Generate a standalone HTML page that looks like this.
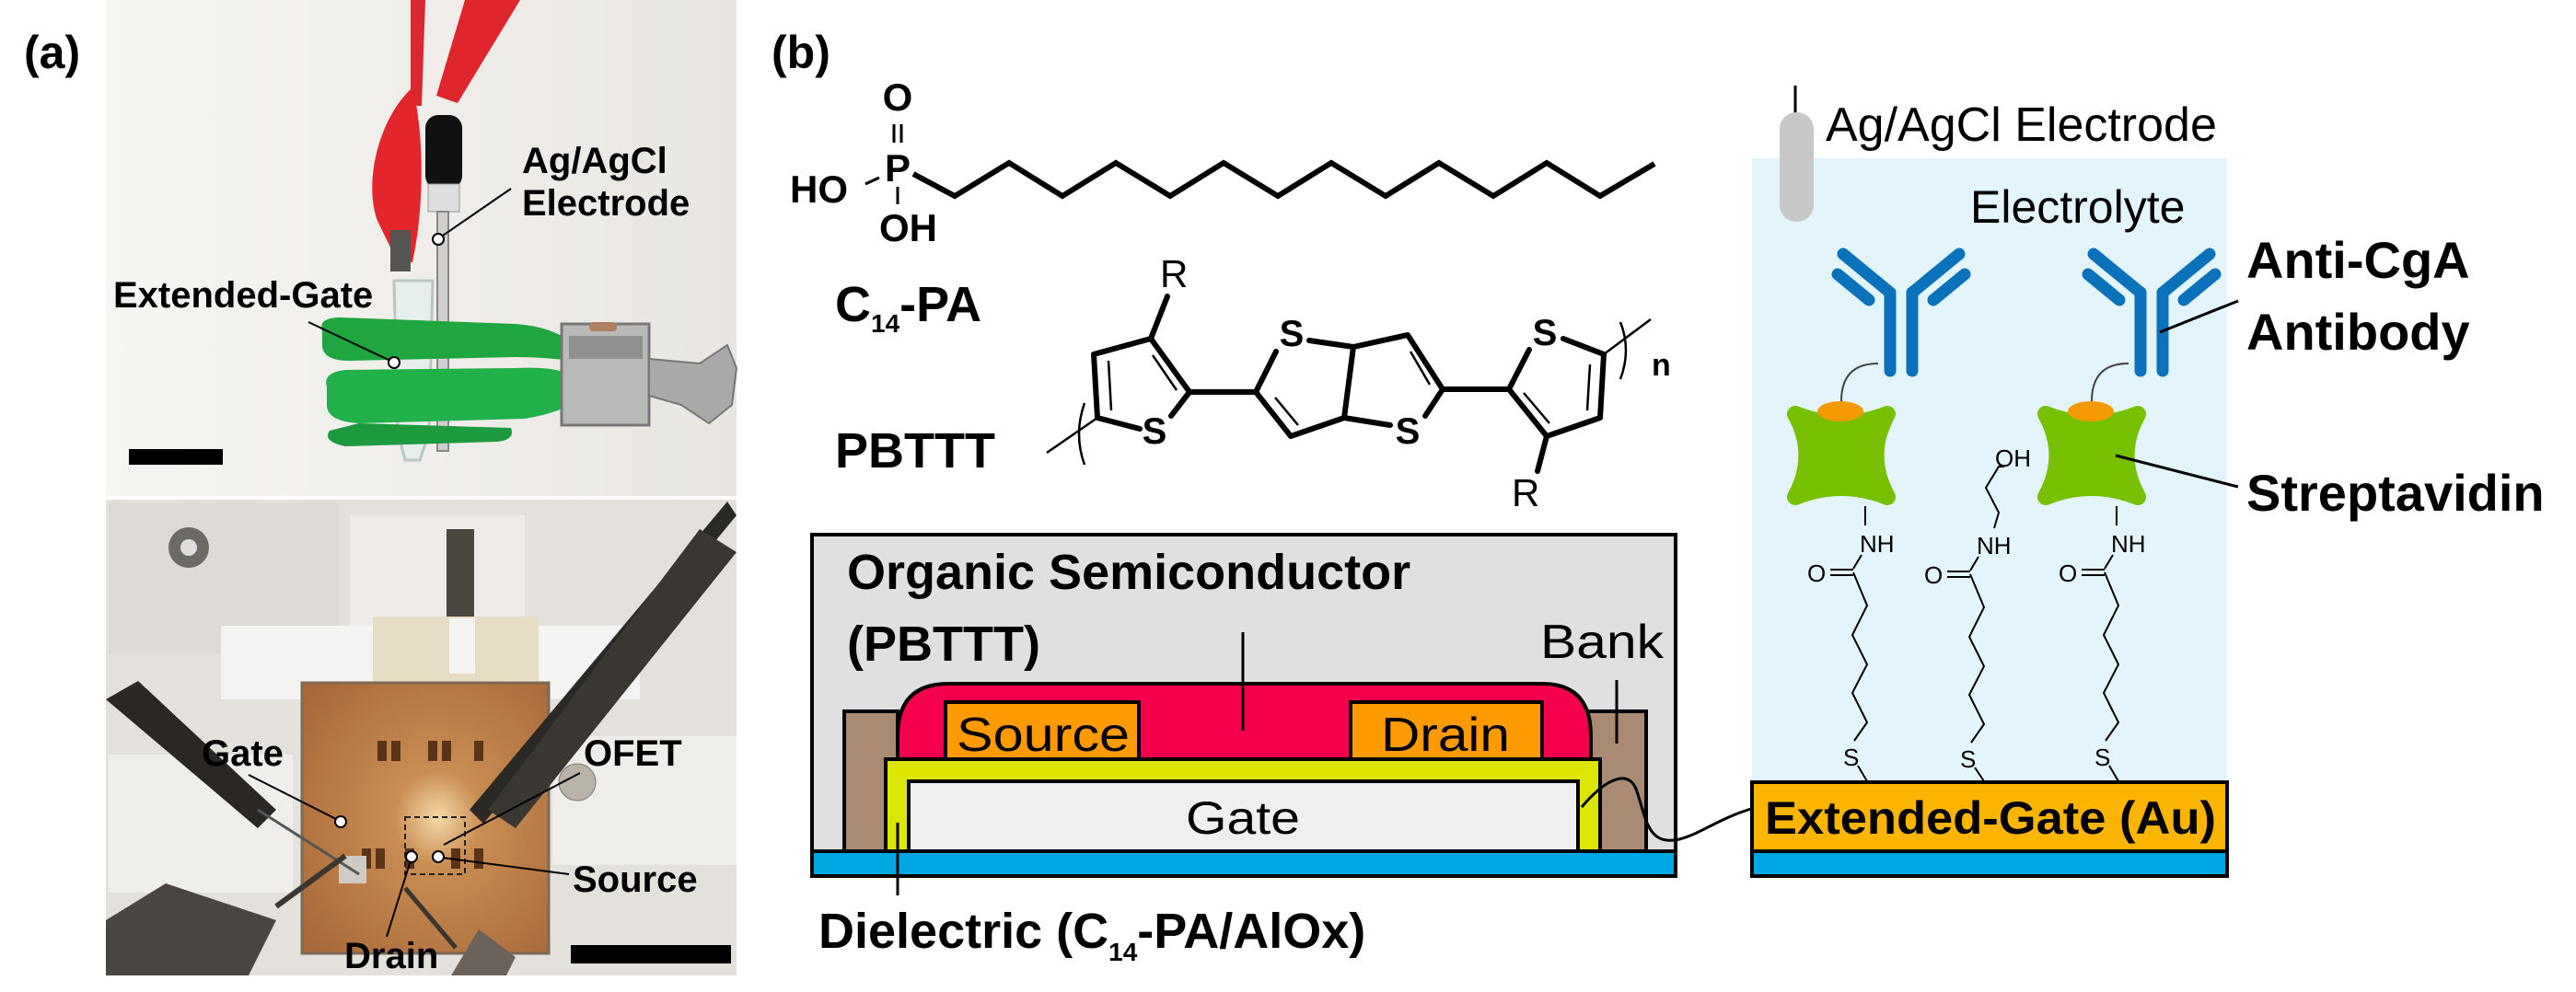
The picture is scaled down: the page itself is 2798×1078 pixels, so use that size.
<!DOCTYPE html>
<html><head><meta charset="utf-8"><style>
html,body{margin:0;padding:0;background:#fff;}
svg{display:block;}
text{font-family:"Liberation Sans",Arial,sans-serif;}
.b{font-weight:bold;}
</style></head><body>
<svg width="2798" height="1078" viewBox="0 0 2798 1078" xmlns="http://www.w3.org/2000/svg">
<defs>
<linearGradient id="bgTop" x1="0" y1="0" x2="1" y2="0"><stop offset="0" stop-color="#f7f5f2"/><stop offset="1" stop-color="#e9e6e2"/></linearGradient>
<radialGradient id="cu" cx="0.55" cy="0.5" r="0.7"><stop offset="0" stop-color="#f3d9a8"/><stop offset="0.25" stop-color="#c98d52"/><stop offset="1" stop-color="#a8683a"/></radialGradient>
</defs>

<!-- ===== Panel (a) ===== -->
<text x="26" y="74" class="b" font-size="50">(a)</text>
<rect x="115" y="0" width="685" height="539" fill="url(#bgTop)"/>
<path d="M446 0 L462 0 L458 115 L446 115 Z" fill="#d9282f"/>
<path d="M505 0 L565 0 L497 112 L474 104 Z" fill="#e0252c"/>
<path d="M448 95 C410 130 395 200 410 240 L432 285 L448 285 C462 220 460 140 448 95 Z" fill="#e3262c"/>
<rect x="424" y="250" width="22" height="45" fill="#555"/>
<rect x="462" y="125" width="40" height="80" rx="14" fill="#111"/>
<rect x="465" y="200" width="34" height="30" fill="#ddd" stroke="#999"/>
<rect x="475" y="230" width="12" height="260" fill="#cfcfcf" stroke="#888" stroke-width="2"/>
<path d="M428 305 L470 305 L466 470 L456 500 L440 500 L432 470 Z" fill="#e6efee" stroke="#b8c6c4" stroke-width="3"/>
<path d="M350 360 Q345 345 370 345 L560 352 Q600 355 620 372 L620 392 Q590 388 560 388 L380 392 Q350 392 350 375 Z" fill="#1fa640"/>
<path d="M355 420 Q350 405 375 402 L560 400 Q605 398 620 408 L620 440 Q600 450 570 455 L390 460 Q355 458 355 440 Z" fill="#22b04a"/>
<path d="M358 468 Q350 480 375 485 L540 480 Q560 478 555 465 L390 460 Z" fill="#1d9a3d"/>
<rect x="610" y="352" width="95" height="110" fill="#b9b9b9" stroke="#777" stroke-width="3"/>
<rect x="618" y="365" width="80" height="25" fill="#8f8f8f"/>
<rect x="640" y="350" width="30" height="10" rx="4" fill="#b08060"/>
<path d="M705 390 L760 395 L790 375 L800 400 L795 440 L770 460 L740 440 L705 430 Z" fill="#a9a9a9" stroke="#777" stroke-width="2"/>
<rect x="140" y="488" width="102" height="17" fill="#000"/>
<text x="567" y="188" class="b" font-size="40">Ag/AgCl</text>
<text x="567" y="234" class="b" font-size="40">Electrode</text>
<line x1="555" y1="205" x2="478" y2="258" stroke="#000" stroke-width="2"/>
<circle cx="476" cy="260" r="6" fill="#fff" stroke="#000" stroke-width="2"/>
<text x="123" y="334" class="b" font-size="40">Extended-Gate</text>
<line x1="335" y1="350" x2="424" y2="392" stroke="#000" stroke-width="2"/>
<circle cx="428" cy="394" r="6" fill="#fff" stroke="#000" stroke-width="2"/>

<!-- bottom photo -->
<rect x="115" y="543" width="685" height="517" fill="#e4e1dd"/>
<rect x="118" y="546" width="250" height="165" fill="#dedad6"/>
<rect x="240" y="680" width="165" height="80" fill="#f4f3f1"/>
<rect x="530" y="680" width="165" height="80" fill="#f4f3f1"/>
<rect x="380" y="560" width="190" height="120" fill="#eeebe8"/>
<rect x="600" y="800" width="200" height="140" fill="#efedea"/>
<rect x="118" y="820" width="200" height="150" fill="#f0eeeb"/>
<circle cx="205" cy="595" r="22" fill="#6d6a66"/><circle cx="205" cy="595" r="9" fill="#ddd"/>
<rect x="485" y="575" width="30" height="100" fill="#4a4640"/>
<rect x="405" y="670" width="180" height="70" fill="#e7dcc4"/>
<rect x="488" y="672" width="28" height="60" fill="#f4f4f2"/>
<rect x="328" y="742" width="268" height="294" fill="url(#cu)" stroke="#7b6a55" stroke-width="3"/>
<g fill="#5a3418">
<rect x="410" y="805" width="10" height="22"/><rect x="425" y="805" width="10" height="22"/>
<rect x="465" y="805" width="10" height="22"/><rect x="480" y="805" width="10" height="22"/>
<rect x="515" y="805" width="10" height="22"/>
<rect x="393" y="922" width="10" height="22"/><rect x="408" y="922" width="10" height="22"/>
<rect x="440" y="922" width="10" height="22"/><rect x="490" y="922" width="10" height="22"/>
<rect x="515" y="922" width="10" height="22"/></g>
<rect x="368" y="930" width="30" height="30" fill="#cfcac4"/>
<circle cx="627" cy="850" r="20" fill="#b8b2a8" stroke="#777"/>
<path d="M800 560 L790 545 L510 880 L525 895 Z" fill="#2b2926"/>
<path d="M760 575 L800 600 L560 900 L530 880 Z" fill="#3a3632"/>
<path d="M115 760 L150 740 L300 880 L280 900 Z" fill="#2a2724"/>
<line x1="280" y1="880" x2="390" y2="950" stroke="#555" stroke-width="3"/>
<path d="M115 1000 L180 960 L300 1000 L270 1060 L115 1060 Z" fill="#4a4541"/>
<path d="M300 985 L375 930" stroke="#3a3632" stroke-width="6"/>
<path d="M490 1060 L520 1010 L560 1040 L550 1060 Z" fill="#6b625c"/>
<path d="M440 965 L495 1030" stroke="#3a3632" stroke-width="5"/>
<rect x="620" y="1027" width="174" height="20" fill="#000"/>
<rect x="440" y="888" width="65" height="62" fill="none" stroke="#222" stroke-width="2" stroke-dasharray="6 4"/>
<text x="219" y="832" class="b" font-size="40">Gate</text>
<line x1="270" y1="842" x2="365" y2="890" stroke="#000" stroke-width="2"/>
<circle cx="370" cy="893" r="6" fill="#fff" stroke="#000" stroke-width="2"/>
<text x="634" y="832" class="b" font-size="40">OFET</text>
<line x1="630" y1="840" x2="482" y2="918" stroke="#000" stroke-width="2"/>
<text x="622" y="969" class="b" font-size="40">Source</text>
<line x1="618" y1="950" x2="480" y2="932" stroke="#000" stroke-width="2"/>
<circle cx="476" cy="931" r="6" fill="#fff" stroke="#000" stroke-width="2"/>
<text x="374" y="1052" class="b" font-size="40">Drain</text>
<line x1="420" y1="1018" x2="446" y2="935" stroke="#000" stroke-width="2"/>
<circle cx="447" cy="931" r="6" fill="#fff" stroke="#000" stroke-width="2"/>

<!-- ===== Panel (b) ===== -->
<text x="838" y="74" class="b" font-size="50">(b)</text>
<text x="975" y="120" class="b" font-size="42" text-anchor="middle">O</text>
<line x1="971" y1="135" x2="971" y2="155" stroke="#000" stroke-width="3"/><line x1="979" y1="135" x2="979" y2="155" stroke="#000" stroke-width="3"/>
<text x="975" y="197" class="b" font-size="42" text-anchor="middle">P</text>
<text x="858" y="220" class="b" font-size="42">HO</text>
<line x1="940" y1="200" x2="955" y2="193" stroke="#000" stroke-width="3"/>
<line x1="975" y1="203" x2="975" y2="222" stroke="#000" stroke-width="3"/>
<text x="955" y="262" class="b" font-size="42">OH</text>
<polyline points="992,189 1037,213 1096,177 1154,213 1212,177 1271,213 1329,177 1388,213 1446,177 1505,213 1563,177 1622,213 1680,177 1738,213 1797,178" fill="none" stroke="#000" stroke-width="6"/>
<text x="907" y="349" class="b" font-size="54">C<tspan font-size="28" dy="12">14</tspan><tspan dy="-12">-PA</tspan></text>
<text x="907" y="508" class="b" font-size="54">PBTTT</text>

<!-- PBTTT structure -->
<g fill="none" stroke="#000" stroke-width="6" stroke-linejoin="round" stroke-linecap="round">
<!-- left thiophene -->
<polyline points="1238,466 1192,454 1188,385 1250,368 1292,426 1272,452"/>
<line x1="1250" y1="368" x2="1268" y2="322"/>
<line x1="1292" y1="426" x2="1364" y2="426"/>
<!-- thienothiophene -->
<polyline points="1386,382 1364,426 1402,474 1460,454 1470,377 1422,370"/>
<polyline points="1470,377 1529,364 1567,423 1548,452"/>
<line x1="1510" y1="462" x2="1460" y2="454"/>
<line x1="1567" y1="423" x2="1639" y2="423"/>
<!-- right thiophene -->
<polyline points="1661,380 1639,423 1680,474 1738,454 1742,385 1698,368"/>
<line x1="1680" y1="474" x2="1670" y2="512"/>
</g>
<g fill="none" stroke="#000" stroke-width="2.5">
<line x1="1204" y1="392" x2="1207" y2="446"/><line x1="1252" y1="386" x2="1278" y2="424"/>
<line x1="1385" y1="432" x2="1410" y2="462"/><line x1="1532" y1="382" x2="1553" y2="418"/>
<line x1="1655" y1="427" x2="1683" y2="460"/><line x1="1727" y1="396" x2="1724" y2="446"/>
<line x1="1192" y1="454" x2="1137" y2="492"/>
<line x1="1742" y1="385" x2="1793" y2="347"/>
</g>
<text x="1254" y="482" class="b" font-size="40" text-anchor="middle">S</text>
<text x="1403" y="376" class="b" font-size="40" text-anchor="middle">S</text>
<text x="1529" y="482" class="b" font-size="40" text-anchor="middle">S</text>
<text x="1678" y="375" class="b" font-size="40" text-anchor="middle">S</text>
<text x="1260" y="312" font-size="42">R</text>
<text x="1642" y="550" font-size="42">R</text>
<path d="M1178 438 Q1166 472 1178 505" fill="none" stroke="#000" stroke-width="2.5"/>
<path d="M1760 350 Q1772 380 1760 412" fill="none" stroke="#000" stroke-width="2.5"/>
<text x="1794" y="408" class="b" font-size="34">n</text>

<!-- device -->
<rect x="882" y="581" width="938" height="371" fill="#dfe0df" stroke="#000" stroke-width="4"/>
<text x="920" y="640" class="b" font-size="54">Organic Semiconductor</text>
<text x="920" y="718" class="b" font-size="54">(PBTTT)</text>
<text x="1673" y="715" font-size="52" textLength="134" lengthAdjust="spacingAndGlyphs">Bank</text>
<rect x="917" y="773" width="58" height="152" fill="#ab8a73" stroke="#000" stroke-width="4"/>
<rect x="1725" y="773" width="63" height="152" fill="#ab8a73" stroke="#000" stroke-width="4"/>
<path d="M975 825 L975 800 Q975 743 1030 743 L1675 743 Q1728 743 1728 800 L1728 825 Z" fill="#f5004d" stroke="#000" stroke-width="4"/>
<rect x="1027" y="763" width="210" height="62" fill="#ff9a00" stroke="#000" stroke-width="4"/>
<rect x="1467" y="763" width="208" height="62" fill="#ff9a00" stroke="#000" stroke-width="4"/>
<text x="1039" y="816" font-size="52" textLength="188" lengthAdjust="spacingAndGlyphs">Source</text>
<text x="1500" y="816" font-size="52" textLength="140" lengthAdjust="spacingAndGlyphs">Drain</text>
<rect x="962" y="825" width="776" height="100" fill="#dde600" stroke="#000" stroke-width="4"/>
<rect x="987" y="849" width="727" height="76" fill="#efefef" stroke="#000" stroke-width="4"/>
<text x="1350" y="906" font-size="50" text-anchor="middle" textLength="124" lengthAdjust="spacingAndGlyphs">Gate</text>
<rect x="882" y="925" width="938" height="27" fill="#00a8e3" stroke="#000" stroke-width="4"/>
<line x1="1350" y1="687" x2="1350" y2="794" stroke="#000" stroke-width="3"/>
<line x1="1756" y1="739" x2="1756" y2="808" stroke="#000" stroke-width="3"/>
<line x1="975" y1="894" x2="975" y2="973" stroke="#000" stroke-width="3"/>
<text x="889" y="1030" class="b" font-size="54">Dielectric (C<tspan font-size="28" dy="14">14</tspan><tspan dy="-14">-PA/AlOx)</tspan></text>
<path d="M1718 877 C1745 845 1770 835 1778 860 C1788 890 1790 920 1824 912 C1850 905 1865 890 1905 878" fill="none" stroke="#000" stroke-width="3"/>

<!-- electrolyte side -->
<rect x="1903" y="172" width="516" height="678" fill="#e3f4fb"/>
<line x1="1950" y1="93" x2="1950" y2="124" stroke="#000" stroke-width="3"/>
<rect x="1933" y="122" width="37" height="119" rx="18" fill="#c8c8c8"/>
<text x="1983" y="153" font-size="52">Ag/AgCl Electrode</text>
<text x="2140" y="242" font-size="50">Electrolyte</text>
<rect x="1903" y="850" width="516" height="75" fill="#fbb500" stroke="#000" stroke-width="4"/>
<rect x="1903" y="925" width="516" height="27" fill="#00a8e3" stroke="#000" stroke-width="4"/>
<text x="1917" y="906" class="b" font-size="50" textLength="490" lengthAdjust="spacingAndGlyphs">Extended-Gate (Au)</text>

<g>
<g stroke="#0a72bb" stroke-width="13" stroke-linecap="round" fill="none">
<line x1="2053" y1="318" x2="2053" y2="403"/><line x1="2077" y1="318" x2="2077" y2="403"/>
<line x1="2053" y1="318" x2="2002" y2="276"/><line x1="2077" y1="318" x2="2128" y2="276"/>
<line x1="2030" y1="326" x2="1996" y2="298"/><line x1="2100" y1="326" x2="2134" y2="298"/>
</g>
<path d="M2000 436 Q2000 395 2040 395" fill="none" stroke="#444" stroke-width="2"/>
<path d="M1950 450 Q2000 470 2050 450 Q2025 495 2050 540 Q2000 520 1950 540 Q1975 495 1950 450 Z" fill="#77c000" stroke="#77c000" stroke-width="18" stroke-linejoin="round"/>
<ellipse cx="1999" cy="447" rx="25" ry="11" fill="#f49a00"/>
</g>
<g transform="translate(272,0)">
<g stroke="#0a72bb" stroke-width="13" stroke-linecap="round" fill="none">
<line x1="2053" y1="318" x2="2053" y2="403"/><line x1="2077" y1="318" x2="2077" y2="403"/>
<line x1="2053" y1="318" x2="2002" y2="276"/><line x1="2077" y1="318" x2="2128" y2="276"/>
<line x1="2030" y1="326" x2="1996" y2="298"/><line x1="2100" y1="326" x2="2134" y2="298"/>
</g>
<path d="M2000 436 Q2000 395 2040 395" fill="none" stroke="#444" stroke-width="2"/>
<path d="M1950 450 Q2000 470 2050 450 Q2025 495 2050 540 Q2000 520 1950 540 Q1975 495 1950 450 Z" fill="#77c000" stroke="#77c000" stroke-width="18" stroke-linejoin="round"/>
<ellipse cx="1999" cy="447" rx="25" ry="11" fill="#f49a00"/>
</g>

<g fill="none" stroke="#000" stroke-width="2">
<line x1="2026" y1="550" x2="2026" y2="571"/>
<line x1="2022" y1="603" x2="2013" y2="618"/>
<line x1="1988" y1="619" x2="2013" y2="619"/><line x1="1988" y1="625" x2="2013" y2="625"/>
<polyline points="2013,622 2028,658 2012,690 2028,722 2012,753 2028,785 2014,805"/>
<line x1="2018" y1="832" x2="2028" y2="849"/>
</g>
<g font-size="26" fill="#000"><text x="2020" y="600">NH</text><text x="1963" y="632">O</text><text x="2002" y="832">S</text></g>
<g transform="translate(273,0)">
<g fill="none" stroke="#000" stroke-width="2">
<line x1="2026" y1="550" x2="2026" y2="571"/>
<line x1="2022" y1="603" x2="2013" y2="618"/>
<line x1="1988" y1="619" x2="2013" y2="619"/><line x1="1988" y1="625" x2="2013" y2="625"/>
<polyline points="2013,622 2028,658 2012,690 2028,722 2012,753 2028,785 2014,805"/>
<line x1="2018" y1="832" x2="2028" y2="849"/>
</g>
<g font-size="26" fill="#000"><text x="2020" y="600">NH</text><text x="1963" y="632">O</text><text x="2002" y="832">S</text></g>
</g>
<g transform="translate(127,2)">
<g fill="none" stroke="#000" stroke-width="2">
<polyline points="2039,572 2044,555 2030,528 2044,505 2050,505"/>
<line x1="2022" y1="603" x2="2013" y2="618"/>
<line x1="1988" y1="619" x2="2013" y2="619"/><line x1="1988" y1="625" x2="2013" y2="625"/>
<polyline points="2013,622 2028,658 2012,690 2028,722 2012,753 2028,785 2014,805"/>
<line x1="2018" y1="832" x2="2028" y2="847"/>
</g>
<g font-size="26" fill="#000"><text x="2020" y="600">NH</text><text x="1963" y="632">O</text><text x="2002" y="832">S</text><text x="2040" y="505">OH</text></g>
</g>

<text x="2440" y="302" class="b" font-size="56">Anti-CgA</text>
<text x="2440" y="380" class="b" font-size="56">Antibody</text>
<line x1="2346" y1="361" x2="2431" y2="327" stroke="#000" stroke-width="3"/>
<text x="2440" y="555" class="b" font-size="56">Streptavidin</text>
<line x1="2298" y1="495" x2="2431" y2="529" stroke="#000" stroke-width="3"/>
</svg>
</body></html>
